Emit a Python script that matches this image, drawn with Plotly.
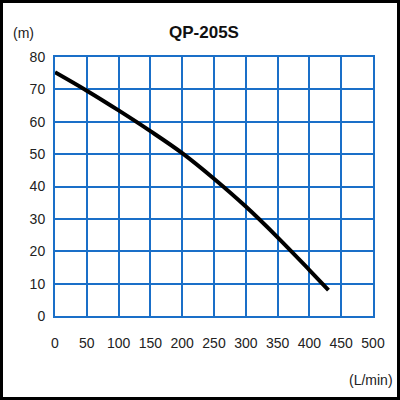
import plotly.graph_objects as go

flow = [0, 50, 100, 150, 200, 250, 300, 350, 400, 430]
head = [75.3, 69.6, 63.5, 57.1, 50.3, 42.4, 33.8, 24.3, 14.2, 8.0]
x_ticks = [0, 50, 100, 150, 200, 250, 300, 350, 400, 450, 500]
y_ticks = [0, 10, 20, 30, 40, 50, 60, 70, 80]

L, R, T, B = 55, 27, 57, 84
W = H = 400
pw, ph = W - L - R, H - T - B

blue = "#1a6fc8"
fam = "Liberation Sans, Arial"
fig = go.Figure()
fig.add_trace(go.Scatter(x=flow, y=head, mode="lines",
                         line=dict(color="black", width=4, shape="spline", smoothing=1.0),
                         hoverinfo="skip"))

fig.update_layout(
    width=W, height=H, margin=dict(l=L, r=R, t=T, b=B),
    paper_bgcolor="white", plot_bgcolor="white", showlegend=False,
    font=dict(family=fam, size=14, color="#222"),
    title=dict(text="<b>QP-205S</b>", xref="container", x=204 / W,
               xanchor="center", y=1 - 32 / H, yanchor="middle",
               font=dict(size=17, color="#111")),
)
fig.update_xaxes(range=[0, 500], tickvals=x_ticks, showgrid=True, gridcolor=blue, gridwidth=2,
                 showline=True, linecolor=blue, linewidth=2, mirror=True, zeroline=False,
                 ticks="", ticklabelstandoff=13, fixedrange=True)
fig.update_yaxes(range=[0, 80], tickvals=y_ticks, showgrid=True, gridcolor=blue, gridwidth=2,
                 showline=True, linecolor=blue, linewidth=2, mirror=True, zeroline=False,
                 ticks="", ticklabelstandoff=5, fixedrange=True)

fig.add_annotation(text="(m)", xref="paper", yref="paper", x=(23 - L) / pw, y=(H - 33 - B) / ph,
                   showarrow=False, xanchor="center", yanchor="middle", font=dict(size=14))
fig.add_annotation(text="(L/min)", xref="paper", yref="paper", x=(395 - L) / pw, y=(H - 380 - B) / ph,
                   showarrow=False, xanchor="right", yanchor="middle", font=dict(size=14))
fig.add_shape(type="rect", xref="paper", yref="paper",
              x0=-L / pw, x1=1 + R / pw, y0=-B / ph, y1=1 + T / ph,
              line=dict(color="black", width=6), layer="above")

fig.write_html("out.html", config={"displayModeBar": False},
               post_script="document.body.style.margin='0';document.body.style.padding='0';"
                           "document.body.style.overflow='hidden';")
